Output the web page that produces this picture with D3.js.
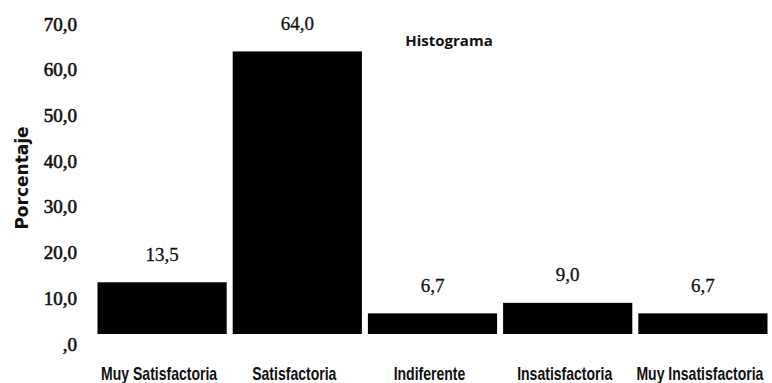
<!DOCTYPE html>
<html>
<head>
<meta charset="utf-8">
<script src="https://cdn.jsdelivr.net/npm/d3@7"></script>
<style>
  html, body { margin: 0; padding: 0; background: #fff; }
  svg { display: block; }
</style>
</head>
<body>
<svg id="chart" width="772" height="383"></svg>
<script>
// Survey results: percentage of answers per satisfaction level
const categories = ["Muy Satisfactoria", "Satisfactoria", "Indiferente", "Insatisfactoria", "Muy Insatisfactoria"];
const percentages = [13.5, 64.0, 6.7, 9.0, 6.7];
const yTicks = [0, 10, 20, 30, 40, 50, 60, 70];

const fmt = d3.formatLocale({ decimal: ",", thousands: ".", grouping: [3], currency: ["", ""] });
const fmtValue = fmt.format(".1f");
const fmtTick = v => v === 0 ? ",0" : fmtValue(v);

const svg = d3.select("#chart");

const x = d3.scaleBand()
  .domain(categories)
  .range([94.5, 770.5])
  .paddingInner(0.0444)
  .paddingOuter(0.0222);

const y = d3.scaleLinear().domain([0, 70]).range([344, 24]);
const barBottom = y(0) - 10;

const serif = '"Liberation Serif"';

// Y axis (labels only, no line or ticks)
const yAxis = d3.axisLeft(y).tickValues(yTicks).tickFormat(fmtTick).tickSize(0).tickPadding(0);
const gy = svg.append("g").attr("transform", "translate(77,0)").call(yAxis);
gy.attr("font-family", null).attr("font-size", null);
gy.select(".domain").remove();
gy.selectAll("text")
  .attr("font-size", 19)
  .style("font-family", serif)
  .style("fill", "#111")
  .style("stroke", "#111")
  .style("stroke-width", "0.6px");

// Y axis title
svg.append("text")
  .attr("transform", "translate(28,178) rotate(-90)")
  .attr("text-anchor", "middle")
  .attr("font-size", 17)
  .attr("font-weight", "bold")
  .style("font-family", '"DejaVu Sans"')
  .style("fill", "#111")
  .text("Porcentaje");

// Bars
svg.append("g").selectAll("rect")
  .data(percentages)
  .join("rect")
  .attr("x", (d, i) => x(categories[i]))
  .attr("width", x.bandwidth())
  .attr("y", d => y(d))
  .attr("height", d => barBottom - y(d))
  .attr("fill", "#000");

// Value labels above bars
svg.append("g").selectAll("text")
  .data(percentages)
  .join("text")
  .attr("x", (d, i) => x(categories[i]) + x.bandwidth() / 2)
  .attr("y", d => y(d) - 28)
  .attr("dy", "0.33em")
  .attr("text-anchor", "middle")
  .attr("font-size", 19)
  .style("font-family", serif)
  .style("fill", "#111")
  .style("stroke", "#111")
  .style("stroke-width", "0.3px")
  .text(d => fmtValue(d));

// Category labels, set in a condensed face
const xAxis = d3.axisBottom(x).tickSize(0).tickPadding(0);
const gx = svg.append("g").attr("transform", "translate(-3,367)").call(xAxis);
gx.attr("font-family", null).attr("font-size", null);
gx.select(".domain").remove();
gx.selectAll("text")
  .attr("font-size", 18)
  .attr("font-weight", "bold")
  .style("font-family", '"Liberation Sans"')
  .style("fill", "#111")
  .attr("dy", "0.72em")
  .attr("transform", "scale(0.78,1)");

// Title
svg.append("text")
  .attr("x", 449)
  .attr("y", 46)
  .attr("text-anchor", "middle")
  .attr("font-size", 15)
  .attr("font-weight", "bold")
  .style("font-family", '"Open Sans"')
  .style("fill", "#111")
  .text("Histograma");
</script>
</body>
</html>
